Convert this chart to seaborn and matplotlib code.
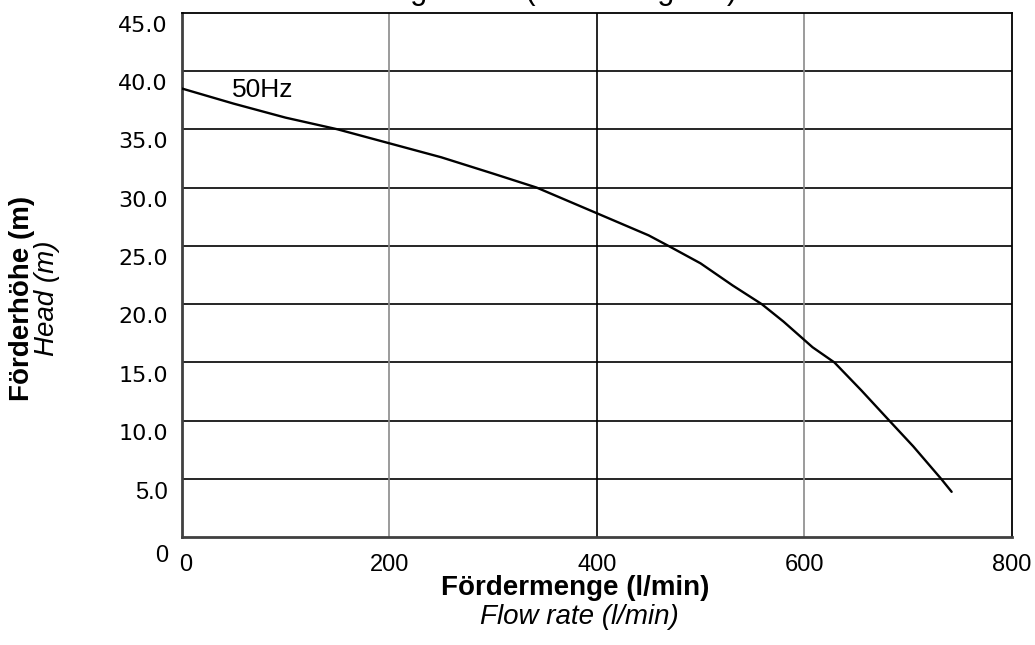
import matplotlib
matplotlib.use("Agg")
import matplotlib.pyplot as plt
import matplotlib.transforms as mtransforms
import numpy as np
import pandas as pd
import seaborn as sns

# pump curve
flow = [0, 50, 100, 120, 150, 200, 250, 300, 342, 400, 450, 469, 500, 531, 559, 580, 608, 629, 655, 682, 705, 732, 742]
head = [38.5, 37.2, 36.0, 35.6, 35.0, 33.8, 32.6, 31.2, 30.0, 27.8, 25.9, 25.0, 23.5, 21.6, 20.0, 18.5, 16.3, 15.0, 12.6, 10.0, 7.8, 5.0, 3.9]

x_ticks = [0, 200, 400, 600, 800]
y_ticks = [0, 5, 10, 15, 20, 25, 30, 35, 40, 45]
y_tick_labels = ["0", "5.0", "10.0", "15.0", "20.0", "25.0", "30.0", "35.0", "40.0", "45.0"]

title_text = "Leistungskurve (Head diagram) 50Hz"
curve_label = "50Hz"

sns.set_theme(style="white")
plt.rcParams["font.family"] = ["Liberation Sans", "DejaVu Sans"]
plt.rcParams["text.color"] = "black"
plt.rcParams["xtick.color"] = "black"
plt.rcParams["ytick.color"] = "black"
plt.rcParams["axes.labelcolor"] = "black"

df = pd.DataFrame({"flow": flow, "head": head})

fig = plt.figure(figsize=(10.35, 6.45), dpi=100)
ax = fig.add_axes([0.1756, 0.167, 0.802, 0.8133])

# grid lines
for y in y_ticks[1:-1]:
    ax.axhline(y, color="black", lw=1.2, zorder=1)
for x, c in [(200, "#8a8a8a"), (400, "black"), (600, "#8a8a8a")]:
    ax.axvline(x, color=c, lw=1.2, zorder=1)

sns.lineplot(data=df, x="flow", y="head", ax=ax, color="black", lw=1.7, zorder=3)
ax.text(48, 37.3, curve_label, fontsize=19,
        family=["Liberation Sans Narrow", "Liberation Sans"], va="bottom", ha="left")

ax.set_xlim(0, 800)
ax.set_ylim(0, 45)
ax.set_xticks(x_ticks)
ax.set_yticks(y_ticks)
ax.set_xticklabels([str(v) for v in x_ticks], fontsize=17)
ax.set_yticklabels(y_tick_labels)
ax.tick_params(axis="both", length=0)
ax.tick_params(axis="x", pad=12)
ax.tick_params(axis="y", pad=10)

for lbl in ax.get_yticklabels():
    txt = lbl.get_text()
    if txt in ("0", "5.0"):
        lbl.set_family(["Liberation Sans"])
        lbl.set_fontsize(17)
    else:
        lbl.set_family(["DejaVu Sans"])
        lbl.set_fontsize(16)
    shift = 12 if txt == "0" else 8
    lbl.set_transform(lbl.get_transform() + mtransforms.ScaledTranslation(0, -shift / 72, fig.dpi_scale_trans))

xl = ax.get_xticklabels()[0]
xl.set_transform(xl.get_transform() + mtransforms.ScaledTranslation(3 / 72, 0, fig.dpi_scale_trans))

ax.set_xlabel("")
ax.set_ylabel("")

for side in ["left", "bottom"]:
    ax.spines[side].set_color("#404040")
    ax.spines[side].set_linewidth(2.0)
for side in ["top", "right"]:
    ax.spines[side].set_color("black")
    ax.spines[side].set_linewidth(1.3)

fig.text(0.556, 1 - 588 / 645, "Fördermenge (l/min)", fontsize=20, fontweight="bold", ha="center", va="center")
fig.text(0.560, 1 - 617 / 645, "Flow rate (l/min)", fontsize=20, style="italic", ha="center", va="center")
fig.text(22 / 1035, 1 - 298 / 645, "Förderhöhe (m)", fontsize=20, fontweight="bold", rotation=90, ha="center", va="center")
fig.text(47 / 1035, 1 - 298 / 645, "Head (m)", fontsize=20, style="italic", rotation=90, ha="center", va="center")

# title sits mostly above the top edge, as in the reference
fig.text(0.545, 1 + 1 / 645, title_text, fontsize=22, ha="center", va="baseline")

fig.savefig("out.png", dpi=100)
